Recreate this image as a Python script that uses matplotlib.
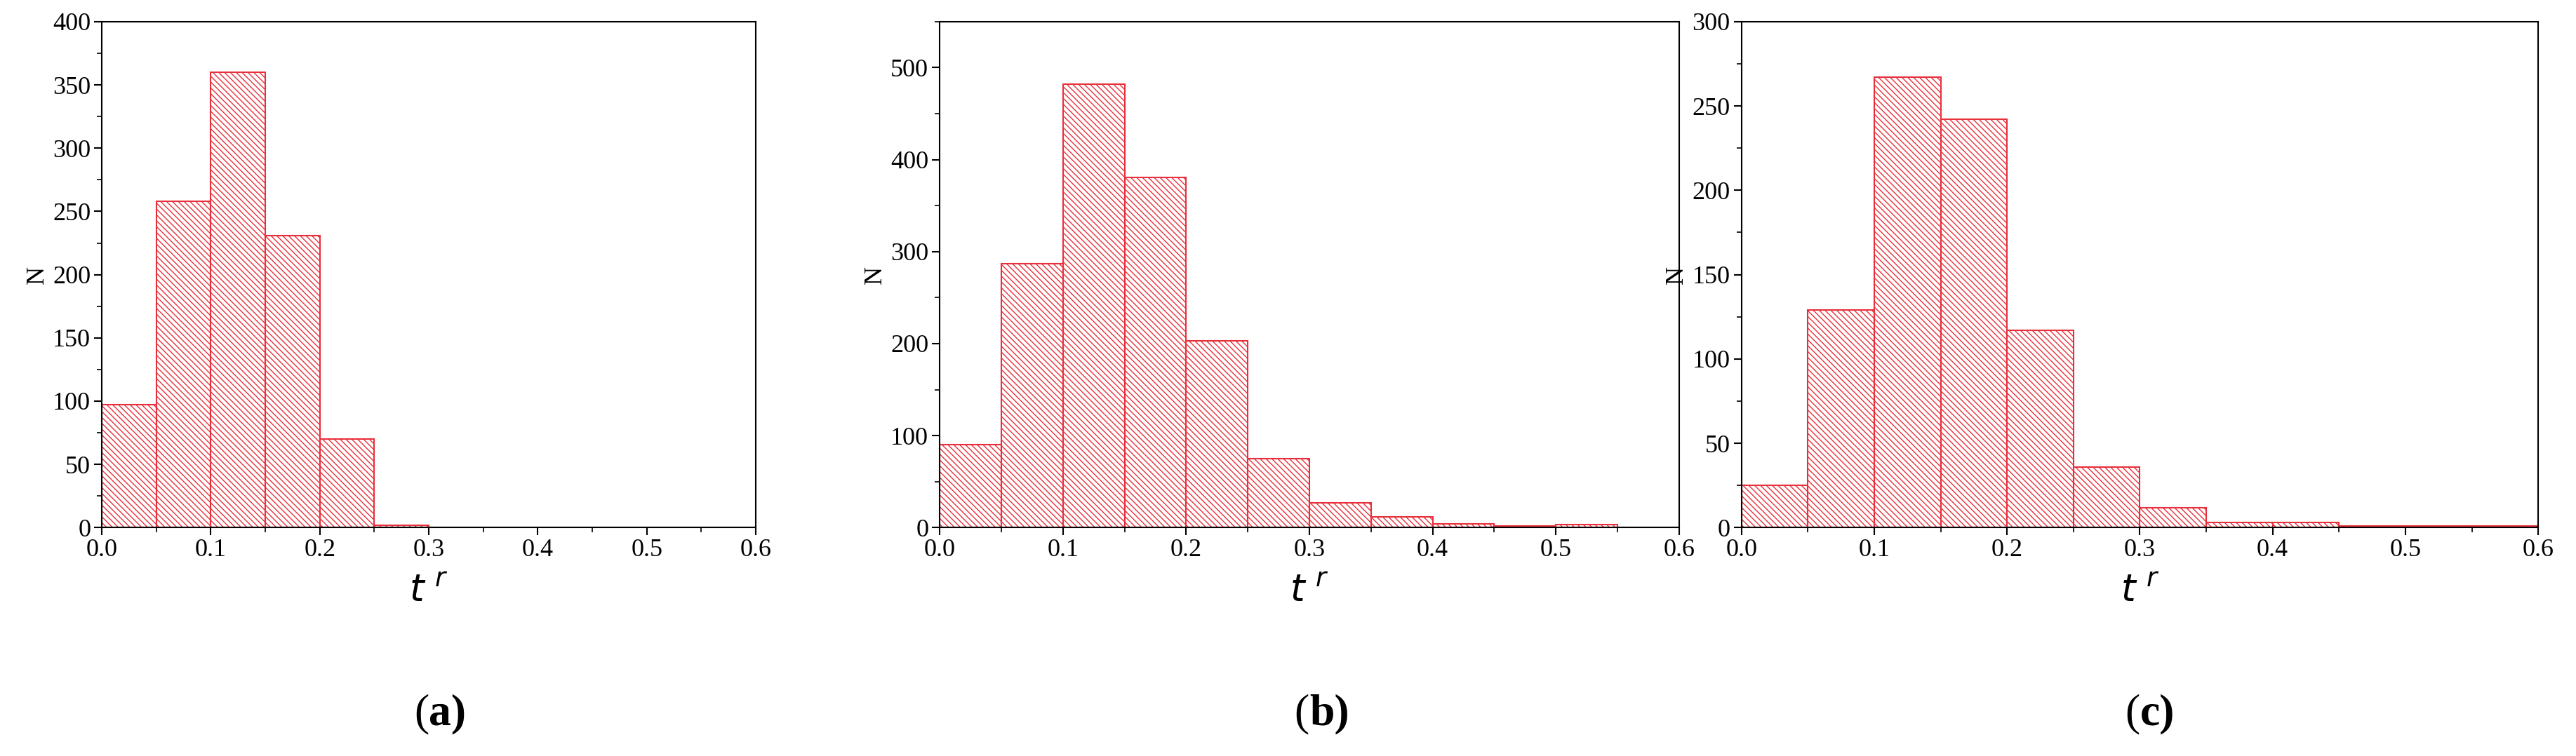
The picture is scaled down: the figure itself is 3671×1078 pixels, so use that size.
import numpy as np
import matplotlib
matplotlib.use('Agg')
import matplotlib.pyplot as plt
from matplotlib.ticker import MultipleLocator

plt.rcParams['font.family'] = ['Liberation Serif']
plt.rcParams['hatch.color'] = '#e8626a'
plt.rcParams['hatch.linewidth'] = 1.0

edges = np.arange(0, 0.601, 0.05)
counts_a = [97, 258, 360, 231, 70, 2, 0, 0, 0, 0, 0, 0]
counts_b = [90, 287, 482, 381, 203, 75, 27, 12, 4, 2, 3, 0]
counts_c = [25, 129, 267, 242, 117, 36, 12, 3, 3, 1, 1, 1]
panels = [('a', counts_a, 400, 50), ('b', counts_b, 550, 100), ('c', counts_c, 300, 50)]
lefts = [62, 572, 1060]
rights = [460, 1022, 1545]
H = 490

fig = plt.figure(figsize=(36.71, 10.78), dpi=100)
for (lab, cnt, ymax, step), l, r in zip(panels, lefts, rights):
    ax = fig.add_axes([l/1568, 1-342/H, (r-l)/1568, (342-14)/H])
    ax.bar(edges[:-1], cnt, width=0.05, align='edge', fill=False,
           edgecolor='#e8303c', hatch='\\\\\\\\', linewidth=1.5)
    ax.set_xlim(0, 0.6)
    ax.set_ylim(0, ymax)
    ax.xaxis.set_major_locator(MultipleLocator(0.1))
    ax.xaxis.set_minor_locator(MultipleLocator(0.05))
    ax.yaxis.set_major_locator(MultipleLocator(step))
    ax.yaxis.set_minor_locator(MultipleLocator(step/2))
    ax.tick_params(labelsize=26, width=1.5, length=8)
    ax.tick_params(which='minor', width=1.2, length=5)
    for s in ax.spines.values():
        s.set_linewidth(1.5)
    ax.set_ylabel('N', fontsize=26, labelpad=4)
    ax.set_xlabel(r'$t^{\ r}$', fontsize=38, labelpad=14)
    xc = (l + r) / 2 / 1568
    fig.text(xc, 0.055, '(', fontsize=46, ha='right', va='center')
    fig.text(xc, 0.055, lab + ')', fontsize=46, ha='left', va='center', fontweight='bold')

fig.savefig('out.png', dpi=100)
